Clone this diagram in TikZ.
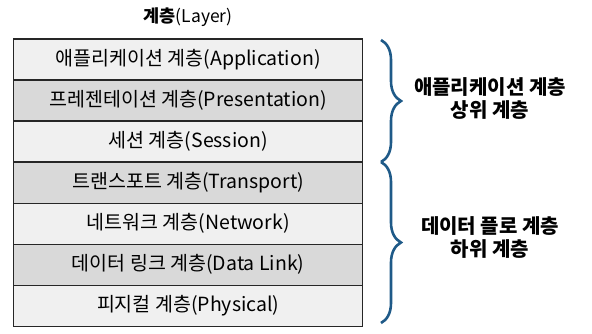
\documentclass[tikz,border=0pt]{standalone}
\usepackage{fontspec}
\setmainfont{Noto Sans CJK KR}
\usetikzlibrary{decorations.pathreplacing}
\definecolor{lightrow}{HTML}{F0F0F0}
\definecolor{darkrow}{HTML}{D9D9D9}
\definecolor{bracecol}{HTML}{1F5A88}
\begin{document}
\begin{tikzpicture}[x=1pt,y=-1pt,
  layer/.style={draw=black!85,line width=1.4pt,minimum width=349pt,minimum height=41pt,inner sep=0pt,anchor=north west,font=\fontsize{19.5}{22}\selectfont},
  lite/.style={layer,fill=lightrow},
  dark/.style={layer,fill=darkrow},
  brc/.style={draw=bracecol,line width=2.6pt,decorate,decoration={brace,amplitude=20pt}},
  side/.style={font=\fontsize{20}{23}\selectfont\bfseries,align=center}]
\useasboundingbox (0,0) rectangle (592,334);
\node[font=\fontsize{17.5}{20}\selectfont] (title) at (188,17) {\textbf{계층}(Layer)};
\node[lite] (app) at (13,38.5) {애플리케이션 계층(Application)};
\node[dark] (pre) at (13,79.5) {프레젠테이션 계층(Presentation)};
\node[lite] (ses) at (13,120.5) {세션 계층(Session)};
\node[dark] (tra) at (13,161.5) {트랜스포트 계층(Transport)};
\node[lite] (net) at (13,202.5) {네트워크 계층(Network)};
\node[dark] (dat) at (13,243.5) {데이터 링크 계층(Data Link)};
\node[lite] (phy) at (13,284.5) {피지컬 계층(Physical)};
\coordinate (b1) at (381,40);
\coordinate (b2) at (381,162);
\coordinate (b3) at (381,323);
\draw[brc] (b1) -- (b2);
\draw[brc] (b2) -- (b3);
\node[side] (upper) at (490,99) {애플리케이션 계층\\상위 계층};
\node[side] (lower) at (490,238) {데이터 플로 계층\\하위 계층};
\end{tikzpicture}
\end{document}
